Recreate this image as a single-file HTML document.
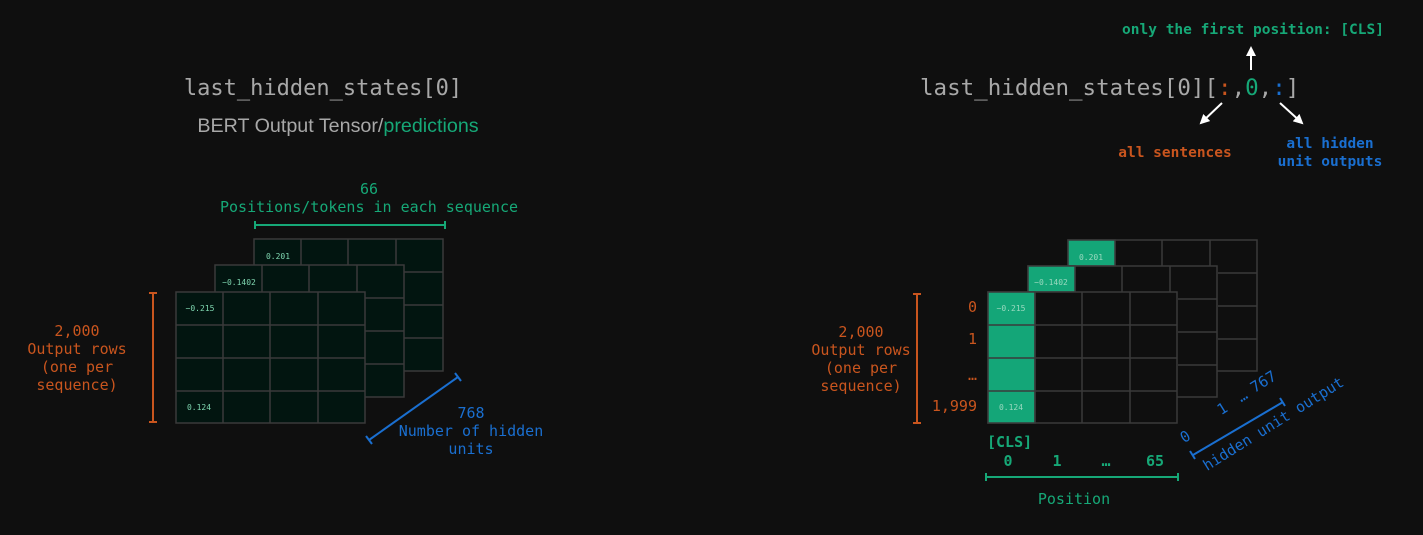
<!DOCTYPE html>
<html><head><meta charset="utf-8"><style>
html,body{margin:0;padding:0;background:#0f0f0f;}
svg{display:block}
text{font-family:"DejaVu Sans Mono","Liberation Mono",monospace;}
.g{fill:#16a877}.o{fill:#c9551e}.b{fill:#1a6fd0}
.sm{font-size:8px;fill:#7fd6b0}
</style></head><body>
<svg width="1423" height="535" viewBox="0 0 1423 535" xmlns="http://www.w3.org/2000/svg">
<defs>
<marker id="ah" viewBox="0 0 10 10" refX="8" refY="5" markerWidth="5" markerHeight="5" orient="auto"><path d="M0,0L10,5L0,10z" fill="#fff"/></marker>
</defs>
<rect width="1423" height="535" fill="#0f0f0f"/>

<!-- LEFT -->
<text x="323" y="95" text-anchor="middle" font-size="22" fill="#a8a8a8">last_hidden_states[0]</text>
<text x="338" y="132" text-anchor="middle" font-size="19.7" fill="#a8a8a8" style="font-family:'Liberation Sans',sans-serif">BERT Output Tensor/<tspan fill="#16a877">predictions</tspan></text>
<text x="369" y="194" text-anchor="middle" font-size="15" class="g">66</text>
<text x="369" y="212" text-anchor="middle" font-size="15" class="g">Positions/tokens in each sequence</text>
<g stroke="#16a877" stroke-width="2"><line x1="255" y1="225" x2="445" y2="225"/><line x1="255" y1="221" x2="255" y2="229"/><line x1="445" y1="221" x2="445" y2="229"/></g>

<g stroke="#3a3a3a" stroke-width="1.5" fill="#021510">
<g transform="translate(254,239)"><rect width="189" height="132"/><path d="M47,0V33M94,0V33M142,0V33M142,33H189M142,66H189M142,99H189" fill="none"/></g>
<g transform="translate(215,265)"><rect width="189" height="132"/><path d="M47,0V27M94,0V27M142,0V27M150,33H189M150,66H189M150,99H189" fill="none"/></g>
<g transform="translate(176,292)"><rect width="189" height="131"/><path d="M47,0V131M94,0V131M142,0V131M0,33H189M0,66H189M0,99H189" fill="none"/></g>
</g>
<text x="278" y="259" text-anchor="middle" class="sm">0.201</text>
<text x="239" y="285" text-anchor="middle" class="sm">−0.1402</text>
<text x="200" y="311" text-anchor="middle" class="sm">−0.215</text>
<text x="199" y="410" text-anchor="middle" class="sm">0.124</text>

<g stroke="#c9551e" stroke-width="2"><line x1="153" y1="293" x2="153" y2="422"/><line x1="149" y1="293" x2="157" y2="293"/><line x1="149" y1="422" x2="157" y2="422"/></g>
<g font-size="15" class="o" text-anchor="middle"><text x="77" y="336">2,000</text><text x="77" y="354">Output rows</text><text x="77" y="372">(one per</text><text x="77" y="390">sequence)</text></g>

<g stroke="#1a6fd0" stroke-width="2"><line x1="369" y1="440" x2="458" y2="377"/><line x1="366" y1="436" x2="372" y2="444"/><line x1="455" y1="373" x2="461" y2="381"/></g>
<g font-size="15" class="b" text-anchor="middle"><text x="471" y="418">768</text><text x="471" y="436">Number of hidden</text><text x="471" y="454">units</text></g>

<!-- RIGHT -->
<text x="920" y="95" font-size="22.5" fill="#a8a8a8">last_hidden_states[0][<tspan fill="#c9551e">:</tspan>,<tspan fill="#16a877">0</tspan>,<tspan fill="#1a6fd0">:</tspan>]</text>
<text x="1253" y="34" text-anchor="middle" font-size="14.5" font-weight="bold" class="g">only the first position: [CLS]</text>
<g stroke="#fff" stroke-width="2" marker-end="url(#ah)"><line x1="1251" y1="70" x2="1251" y2="48"/><line x1="1222" y1="103" x2="1201" y2="123"/><line x1="1280" y1="103" x2="1302" y2="123"/></g>
<text x="1175" y="157" text-anchor="middle" font-size="14.5" font-weight="bold" class="o">all sentences</text>
<text x="1330" y="148" text-anchor="middle" font-size="14.5" font-weight="bold" class="b">all hidden</text>
<text x="1330" y="166" text-anchor="middle" font-size="14.5" font-weight="bold" class="b">unit outputs</text>

<g stroke="#3a3a3a" stroke-width="1.5" fill="#0f0f0f">
<g transform="translate(1068,240)"><rect width="189" height="131"/><path d="M47,0V26M94,0V26M142,0V26M150,33H189M150,66H189M150,99H189" fill="none"/><rect x="0" y="0" width="47" height="26" fill="#14a678"/></g>
<g transform="translate(1028,266)"><rect width="189" height="131"/><path d="M47,0V26M94,0V26M142,0V26M150,33H189M150,66H189M150,99H189" fill="none"/><rect x="0" y="0" width="47" height="26" fill="#14a678"/></g>
<g transform="translate(988,292)"><rect width="189" height="131"/><rect x="0" y="0" width="47" height="131" fill="#14a678"/><path d="M47,0V131M94,0V131M142,0V131M0,33H189M0,66H189M0,99H189" fill="none"/></g>
</g>
<g class="sm" style="fill:#9ad9bf" text-anchor="middle">
<text x="1091" y="260">0.201</text><text x="1051" y="285">−0.1402</text><text x="1011" y="311">−0.215</text><text x="1011" y="410">0.124</text></g>

<g stroke="#c9551e" stroke-width="2"><line x1="917" y1="294" x2="917" y2="423"/><line x1="913" y1="294" x2="921" y2="294"/><line x1="913" y1="423" x2="921" y2="423"/></g>
<g font-size="15" class="o" text-anchor="middle"><text x="861" y="337">2,000</text><text x="861" y="355">Output rows</text><text x="861" y="373">(one per</text><text x="861" y="391">sequence)</text></g>
<g font-size="15" class="o" text-anchor="end"><text x="977" y="312">0</text><text x="977" y="344">1</text><text x="977" y="380">…</text><text x="977" y="411">1,999</text></g>

<text x="987" y="447" font-size="15" font-weight="bold" class="g">[CLS]</text>
<g font-size="15" font-weight="bold" class="g" text-anchor="middle"><text x="1008" y="466">0</text><text x="1057" y="466">1</text><text x="1106" y="466">…</text><text x="1155" y="466">65</text></g>
<g stroke="#16a877" stroke-width="2"><line x1="986" y1="477" x2="1178" y2="477"/><line x1="986" y1="473" x2="986" y2="481"/><line x1="1178" y1="473" x2="1178" y2="481"/></g>
<text x="1074" y="504" text-anchor="middle" font-size="15" class="g">Position</text>

<g stroke="#1a6fd0" stroke-width="2"><line x1="1193" y1="455" x2="1283" y2="402"/><line x1="1190" y1="451" x2="1195" y2="459"/><line x1="1280" y1="398" x2="1285" y2="406"/></g>
<text font-size="15" class="b" text-anchor="middle" transform="translate(1276,428) rotate(-32)">hidden unit output</text>
<g font-size="15" class="b" text-anchor="middle">
<text transform="translate(1188,441) rotate(-32)">0</text>
<text transform="translate(1225,413) rotate(-32)">1</text>
<text transform="translate(1245,400) rotate(-32)">…</text>
<text transform="translate(1266,386) rotate(-32)">767</text>
</g>
</svg>
</body></html>
